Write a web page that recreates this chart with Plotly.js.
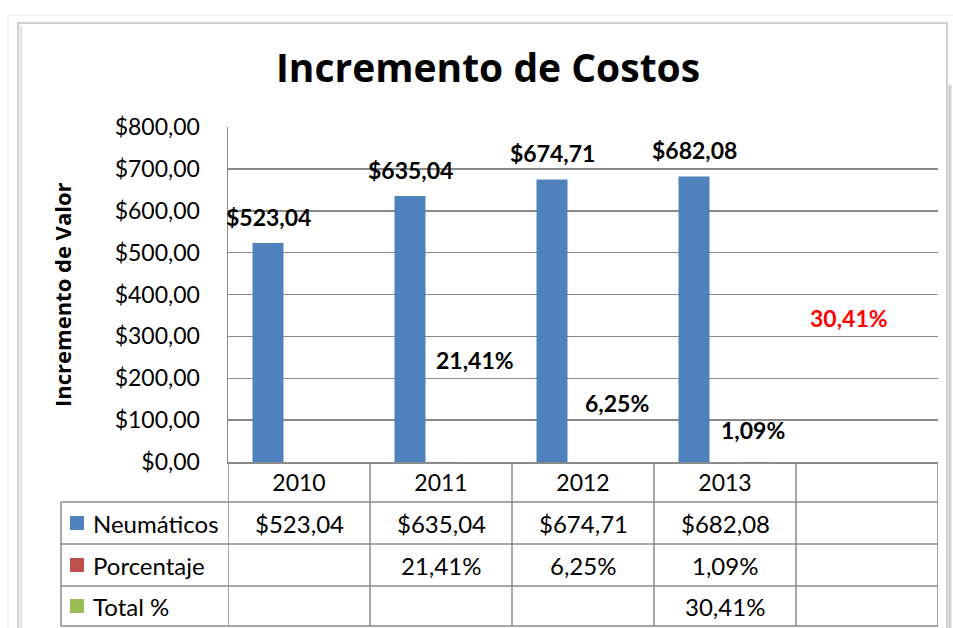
<!DOCTYPE html>
<html>
<head>
<meta charset="utf-8">
<script src="https://cdn.plot.ly/plotly-3.0.1.min.js"></script>
<style>html,body{margin:0;padding:0;background:#fff;}#chart{width:953px;height:628px;}</style>
</head>
<body>
<div id="chart"></div>
<script>
// ---- data ----
var years = ['2010', '2011', '2012', '2013', ''];
var neumaticos = [523.04, 635.04, 674.71, 682.08, null];
var porcentaje = [null, 21.41, 6.25, 1.09, null];   // percent
var totalPct = [null, null, null, 30.41, null];     // percent
var seriesNames = ['Neumáticos', 'Porcentaje', 'Total %'];
var seriesColors = ['#4F81BD', '#C0504D', '#9BBB59'];
var yTicks = [0, 100, 200, 300, 400, 500, 600, 700, 800];

// ---- hand-placed label positions (style, not data) ----
var pctLabelX = [null, 1.239, 2.239, 3.197, null];
var pctLabelY = [null, 243, 141, 76, null];
var totLabelX = [null, null, null, 3.873, null];
var totLabelY = [null, null, null, 343, null];

// ---- geometry helpers (pixel -> paper) ----
var L = 228, R = 938, T = 127, B = 462;
var W = 953, H = 628;
function px(p) { return (p - L) / (R - L); }
function py(p) { return (B - p) / (B - T); }

function fmtMoney(v) { return '$' + v.toFixed(2).replace('.', ','); }
function fmtPct(v) { return v.toFixed(2).replace('.', ',') + '%'; }

var xs = years.map(function (_, i) { return i; });
var bargap = 0.345;
var barW = (1 - bargap) / 3;

var traces = [
  { type: 'bar', x: xs, y: neumaticos, name: seriesNames[0], marker: { color: seriesColors[0] }, hoverinfo: 'none' },
  { type: 'bar', x: xs, y: porcentaje.map(function (v) { return v == null ? null : v / 100; }), name: seriesNames[1], marker: { color: seriesColors[1] }, hoverinfo: 'none' },
  { type: 'bar', x: xs, y: totalPct.map(function (v) { return v == null ? null : v / 100; }), name: seriesNames[2], marker: { color: seriesColors[2] }, hoverinfo: 'none' }
];

var gridCol = '#8a8a8a';
var lineW = 1.5;
var baseFont = 'Lato, "Open Sans", sans-serif';
var boldFont = '"Open Sans", Lato, sans-serif';
var annotations = [];
var shapes = [];

function ann(o) {
  o.showarrow = false;
  if (!o.xanchor) o.xanchor = 'center';
  if (!o.yanchor) o.yanchor = 'middle';
  annotations.push(o);
}

// data labels on bars
neumaticos.forEach(function (v, i) {
  if (v == null) return;
  ann({ x: i - barW, y: v, xref: 'x', yref: 'y', text: '<b>' + fmtMoney(v) + '</b>', yshift: 26, font: { family: baseFont, size: 23, color: '#000' } });
});
porcentaje.forEach(function (v, i) {
  if (v == null) return;
  ann({ x: pctLabelX[i], y: pctLabelY[i], xref: 'x', yref: 'y', text: '<b>' + fmtPct(v) + '</b>', font: { family: baseFont, size: 23, color: '#000' } });
});
totalPct.forEach(function (v, i) {
  if (v == null) return;
  ann({ x: totLabelX[i], y: totLabelY[i], xref: 'x', yref: 'y', text: '<b>' + fmtPct(v) + '</b>', font: { family: baseFont, size: 23, color: '#FF0000' } });
});

// y axis title
ann({ x: px(62), y: py(295), xref: 'paper', yref: 'paper', text: '<b>Incremento de Valor</b>', textangle: -90, font: { family: boldFont, size: 22, color: '#000' } });

// data table
var rowCenters = [523, 565, 606];
var rowValues = [neumaticos.map(function (v) { return v == null ? '' : fmtMoney(v); }),
                 porcentaje.map(function (v) { return v == null ? '' : fmtPct(v); }),
                 totalPct.map(function (v) { return v == null ? '' : fmtPct(v); })];
rowCenters.forEach(function (yc, r) {
  shapes.push({ type: 'rect', xref: 'paper', yref: 'paper', x0: px(70), x1: px(84), y0: py(yc - 7), y1: py(yc + 7), fillcolor: seriesColors[r], line: { width: 0 } });
  ann({ x: px(91), y: py(yc), xref: 'paper', yref: 'paper', xanchor: 'left', text: seriesNames[r], font: { family: baseFont, size: 24, color: '#000' } });
  rowValues[r].forEach(function (t, i) {
    if (!t) return;
    ann({ x: i, y: py(yc), xref: 'x', yref: 'paper', text: t, font: { family: baseFont, size: 24, color: '#000' } });
  });
});

// table lines
for (var k = 0; k <= years.length; k++) {
  shapes.push({ type: 'line', xref: 'x', yref: 'paper', x0: k - 0.5, x1: k - 0.5, y0: py(462), y1: py(626), line: { color: gridCol, width: lineW } });
}
shapes.push({ type: 'line', xref: 'paper', yref: 'paper', x0: px(61), x1: px(61), y0: py(502), y1: py(626), line: { color: gridCol, width: lineW } });
[502, 544, 586, 626].forEach(function (yy) {
  shapes.push({ type: 'line', xref: 'paper', yref: 'paper', x0: px(61), x1: px(938), y0: py(yy), y1: py(yy), line: { color: gridCol, width: lineW } });
});

// chart frame
shapes.push({ type: 'rect', xref: 'paper', yref: 'paper', layer: 'below', x0: px(8), x1: px(975), y0: py(15), y1: py(680), line: { color: '#f1ece7', width: 1 }, fillcolor: 'rgba(0,0,0,0)' });
shapes.push({ type: 'rect', xref: 'paper', yref: 'paper', layer: 'below', x0: px(18), x1: px(947), y0: py(23), y1: py(680), line: { color: '#d0d0d0', width: 2 }, fillcolor: 'rgba(0,0,0,0)' });
shapes.push({ type: 'line', xref: 'paper', yref: 'paper', layer: 'below', x0: px(21), x1: px(21), y0: py(25), y1: py(680), line: { color: '#e6e6e6', width: 3 } });
shapes.push({ type: 'line', xref: 'paper', yref: 'paper', layer: 'below', x0: px(950), x1: px(950), y0: py(85), y1: py(680), line: { color: '#cfcfcf', width: 3 } });

var layout = {
  width: W, height: H,
  margin: { l: L, r: W - R, t: T, b: H - B, pad: 0 },
  paper_bgcolor: '#ffffff', plot_bgcolor: '#ffffff',
  separators: ',.',
  showlegend: false,
  barmode: 'group', bargap: bargap, bargroupgap: 0,
  title: { text: '<b>Incremento de Costos</b>', x: 488 / W, xanchor: 'center', y: 1 - 68 / H, yanchor: 'middle', font: { family: boldFont, size: 39, color: '#000' } },
  xaxis: {
    range: [-0.5, years.length - 0.5], tickvals: xs, ticktext: years, showgrid: false, zeroline: false,
    showline: true, linecolor: gridCol, linewidth: lineW, ticks: '', ticklabelstandoff: 0,
    tickfont: { family: baseFont, size: 23, color: '#000' }, fixedrange: true
  },
  yaxis: {
    range: [0, 800], tickvals: yTicks, ticktext: yTicks.map(fmtMoney), showgrid: true, gridcolor: gridCol, gridwidth: lineW,
    zeroline: false, showline: true, linecolor: gridCol, linewidth: lineW, ticks: '', ticklabelstandoff: 22,
    tickfont: { family: baseFont, size: 23, color: '#000' }, fixedrange: true
  },
  annotations: annotations,
  shapes: shapes
};

Plotly.newPlot('chart', traces, layout, { displayModeBar: false, staticPlot: true });
</script>
</body>
</html>
